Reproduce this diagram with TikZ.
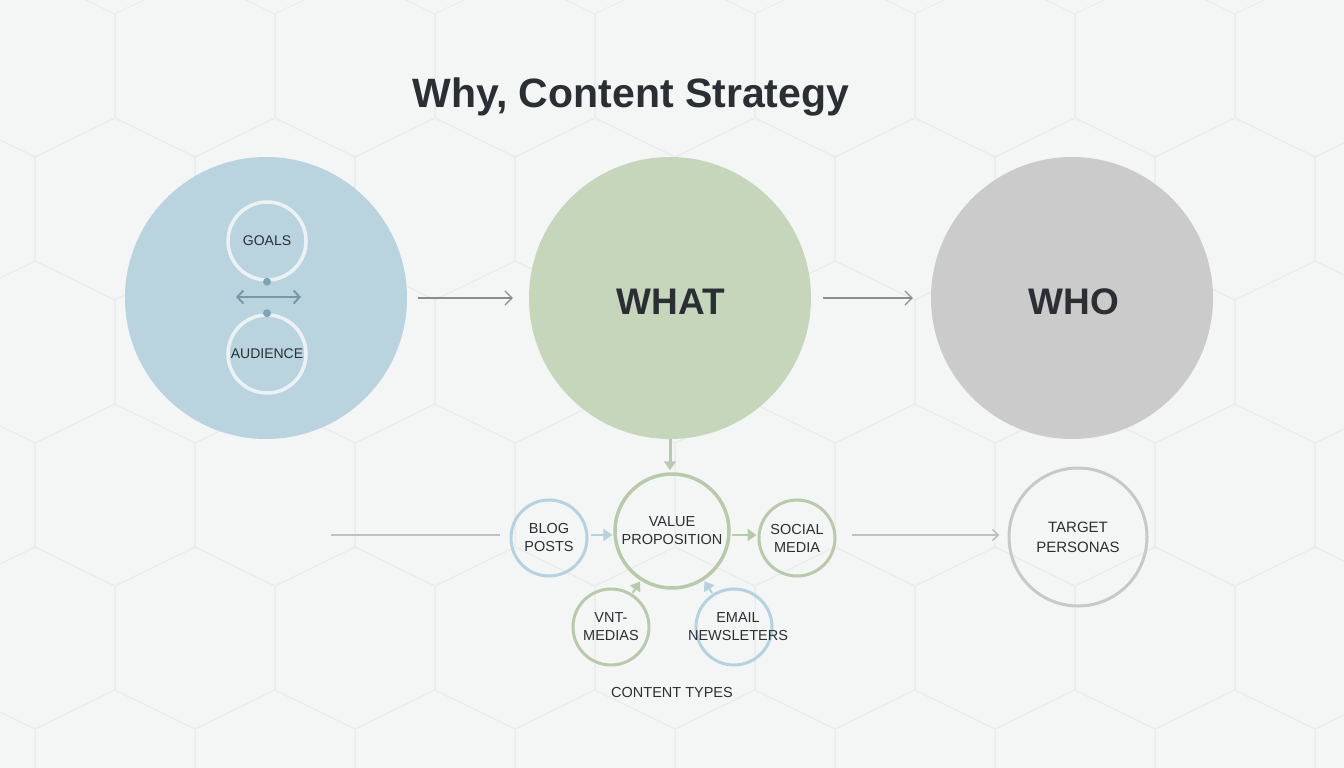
\documentclass[tikz,border=0pt]{standalone}
\usepackage{fontspec}
\setmainfont{Liberation Sans}
\usetikzlibrary{arrows.meta,calc}
\definecolor{bg}{RGB}{244,245,245}
\definecolor{hexline}{RGB}{234,236,236}
\definecolor{whyfill}{RGB}{185,212,222}
\definecolor{whatfill}{RGB}{197,214,187}
\definecolor{whofill}{RGB}{203,203,203}
\definecolor{innerring}{RGB}{236,242,244}
\definecolor{dotblue}{RGB}{124,162,180}
\definecolor{arrblue}{RGB}{120,152,170}
\definecolor{txt}{RGB}{43,47,51}
\definecolor{arrgray}{RGB}{140,140,140}
\definecolor{ringgreen}{RGB}{183,203,170}
\definecolor{ringblue}{RGB}{180,210,224}
\definecolor{ringgray}{RGB}{200,200,200}
\definecolor{linegray}{RGB}{192,192,192}
\tikzset{
  bigcircle/.style={circle, inner sep=0pt, minimum size=282pt, text=txt,
    font=\fontsize{37}{40}\selectfont\bfseries},
  innercircle/.style={circle, draw=innerring, line width=3.5pt, inner sep=0pt,
    minimum size=78pt, text=txt, font=\fontsize{14}{16}\selectfont},
  smallcircle/.style={circle, line width=3pt, inner sep=0pt, minimum size=76pt,
    text=txt, align=center, font=\fontsize{14.5}{18}\selectfont},
  grayarrow/.style={draw=arrgray, line width=1.2pt,
    -{Straight Barb[length=7pt,width=14pt,line width=1.2pt]}},
  greenarrow/.style={draw=ringgreen, line width=2.5pt,
    -{Triangle[length=9pt,width=12pt]}},
  bluearrow/.style={draw=ringblue, line width=2.5pt,
    -{Triangle[length=9pt,width=12pt]}},
  dot/.style={circle, fill=dotblue, inner sep=0pt, minimum size=8pt},
}
\begin{document}
\begin{tikzpicture}[x=1pt,y=-1pt]
\fill[bg] (0,0) rectangle (1344,768);
\useasboundingbox (0,0) rectangle (1344,768);
% hexagon background
\begin{scope}
\clip (0,0) rectangle (1344,768);
\foreach \r in {0,...,5}{
  \foreach \k in {-1,...,8}{
    \pgfmathsetmacro\cx{195+160*\k-80*mod(\r,2)}
    \pgfmathsetmacro\cy{66+143*\r}
    \draw[hexline, line width=1pt]
      (\cx-80,\cy-52) -- (\cx,\cy-91) -- (\cx+80,\cy-52) -- (\cx+80,\cy+52)
      -- (\cx,\cy+91) -- (\cx-80,\cy+52) -- cycle;
  }
}
\end{scope}
% title
\node[anchor=base, text=txt, font=\fontsize{41}{46}\selectfont\bfseries]
  (title) at (631,107) {Why, Content Strategy};
% big circles
\node[bigcircle, fill=whyfill] (why) at (266,298) {};
\node[bigcircle, fill=whatfill] (what) at (670,298) {};
\node[bigcircle, fill=whofill] (who) at (1072,298) {};
\node[anchor=base, text=txt, font=\fontsize{37}{40}\selectfont\bfseries] (whatlbl) at (671,314) {WHAT};
\node[anchor=base, text=txt, font=\fontsize{37}{40}\selectfont\bfseries] (wholbl) at (1074,314) {WHO};
% inner circles of WHY
\node[innercircle] (goals) at (267,241) {GOALS};
\node[innercircle] (aud) at (267,354) {AUDIENCE};
\node[dot] (d1) at (goals.south) {};
\node[dot] (d2) at (aud.north) {};
\coordinate (dl) at (236,297);
\coordinate (dr) at (301,297);
\draw[arrblue, line width=2pt,
  {Straight Barb[length=6pt,width=13pt,line width=2pt]}-{Straight Barb[length=6pt,width=13pt,line width=2pt]}]
  (dl) -- (dr);
% main arrows
\draw[grayarrow, shorten <=11pt, shorten >=16pt] (why) -- (what);
\draw[grayarrow, shorten <=12pt, shorten >=18pt] (what) -- (who);
% content types
\node[smallcircle, draw=ringgreen, line width=3.5pt, minimum size=114pt] (vp) at (672,531) {VALUE\\PROPOSITION};
\node[smallcircle, draw=ringblue] (blog) at (549,538) {BLOG\\POSTS};
\node[smallcircle, draw=ringgreen] (social) at (797,538) {SOCIAL\\MEDIA};
\node[smallcircle, draw=ringgreen] (vnt) at (611,627) {VNT-\\MEDIAS};
\node[smallcircle, draw=ringblue] (email) at (734,627) {};
\node[text=txt, align=center, font=\fontsize{14.5}{18}\selectfont] (emaillbl) at (738,627) {EMAIL\\NEWSLETERS};
\node[text=txt, font=\fontsize{14.5}{18}\selectfont] (ctypes) at (672,693) {CONTENT TYPES};
\node[smallcircle, draw=ringgray, minimum size=138pt, font=\fontsize{15}{20}\selectfont] (target) at (1078,537) {TARGET\\PERSONAS};
% connectors
\draw[greenarrow, line width=3pt, shorten >=2pt] (what.south) -- (what.south |- vp.north);
\draw[bluearrow, shorten <=2pt, shorten >=1pt] (blog.east |- 0,535) -- (vp.west |- 0,535);
\draw[greenarrow, shorten <=1pt, shorten >=1pt] (vp.east |- 0,535) -- (social.west |- 0,535);
\draw[greenarrow, line width=2pt, shorten <=1pt, shorten >=1pt] (vnt) -- (vp);
\draw[bluearrow, line width=2pt, shorten <=1pt, shorten >=1pt] (email) -- (vp);
\coordinate (lstart) at (331,535);
\draw[linegray, line width=1.5pt, shorten >=10pt] (lstart) -- (blog.west |- lstart);
\draw[linegray, line width=1.5pt, shorten <=15pt, shorten >=8pt,
  -{Straight Barb[length=6pt,width=11pt,line width=1.5pt]}] (social.east |- 0,535) -- (target.west |- 0,535);
\end{tikzpicture}
\end{document}
